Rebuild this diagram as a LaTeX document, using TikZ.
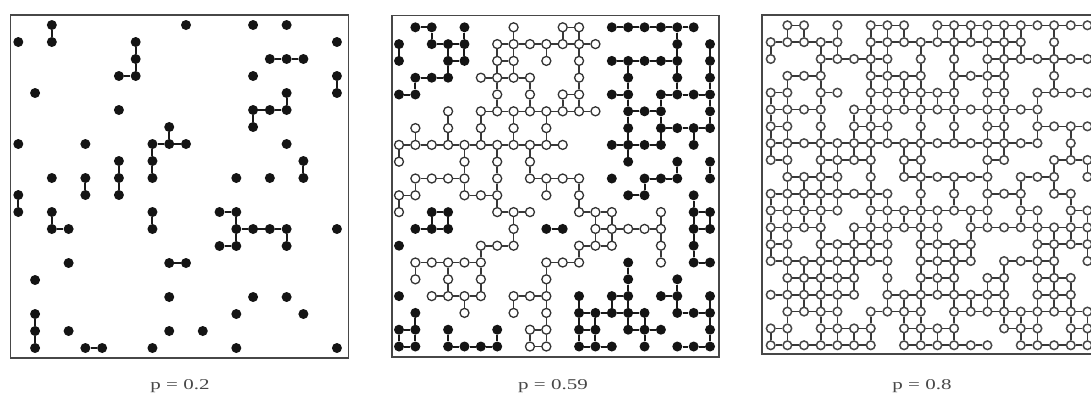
\documentclass[tikz,border=0pt]{standalone}
\usepackage{fontspec}
\setmainfont{Liberation Serif}
\newfontfamily\lblfont[FakeStretch=1.4]{Liberation Serif}
\newcount\gcol
\def\defrow#1#2#3{\global\gcol=0 \gdef\curP{#1}\gdef\curR{#2}\defrowi#3\relax}
\def\defrowi#1{\ifx#1\relax\else\expandafter\xdef\csname g\curP-\curR-\the\gcol\endcsname{#1}\global\advance\gcol by 1 \expandafter\defrowi\fi}
\def\site#1#2#3{\ifcsname g#1-#2-#3\endcsname\csname g#1-#2-#3\endcsname\else.\fi}
% panel A : p = 0.2
\defrow{A}{0}{..x.......x...x.x...}
\defrow{A}{1}{x.x....x...........x}
\defrow{A}{2}{.......x.......xxx..}
\defrow{A}{3}{......xx......x....x}
\defrow{A}{4}{.x..............x..x}
\defrow{A}{5}{......x.......xxx...}
\defrow{A}{6}{.........x....x.....}
\defrow{A}{7}{x...x...xxx.....x...}
\defrow{A}{8}{......x.x........x..}
\defrow{A}{9}{..x.x.x.x....x.x.x..}
\defrow{A}{10}{x...x.x.............}
\defrow{A}{11}{x.x.....x...xx......}
\defrow{A}{12}{..xx....x....xxxx..x}
\defrow{A}{13}{............xx..x...}
\defrow{A}{14}{...x.....xx.........}
\defrow{A}{15}{.x..................}
\defrow{A}{16}{.........x....x.x...}
\defrow{A}{17}{.x...........x...x..}
\defrow{A}{18}{.x.x.....x.x........}
\defrow{A}{19}{.x..xx..x....x.....x}
% panel B : p = 0.59
\defrow{B}{0}{.xx.x..o..oo.xxxxxx.}
\defrow{B}{1}{x.xxx.ooooooo....x.x}
\defrow{B}{2}{x..xx.oo.o.o.xxxxx.x}
\defrow{B}{3}{.xxx.oooo..o..x..x.x}
\defrow{B}{4}{xx....o.o.oo.xx.xxxx}
\defrow{B}{5}{...o.oooooooo.xxx..x}
\defrow{B}{6}{.o.o.o.o.o....x.xxxx}
\defrow{B}{7}{ooooooooooo..xxxx.x.}
\defrow{B}{8}{o...o.o.o.....x..x.x}
\defrow{B}{9}{.oooo.o.oooo.x.xxx.x}
\defrow{B}{10}{oo..ooo..o.o..xx..x.}
\defrow{B}{11}{o.xx..ooo..ooo..o.xx}
\defrow{B}{12}{.xxx...o.xx.ooooo.xx}
\defrow{B}{13}{x....ooo...ooo..o.x.}
\defrow{B}{14}{.ooooo...ooo..x.o.xx}
\defrow{B}{15}{.o.o.o...o....x..x..}
\defrow{B}{16}{x.oooo.ooo.x.xx.xx.x}
\defrow{B}{17}{.x..o..o.o.xxxxx.xxx}
\defrow{B}{18}{xx.x..x.oo.xx.xxx..x}
\defrow{B}{19}{xx.xxxx.oo.xxx.x.xxx}
% panel C : p = 0.8
\defrow{C}{0}{.oo.o.ooo.oooooooooo}
\defrow{C}{1}{ooooo.oooooooooo.o..}
\defrow{C}{2}{o..ooooo.o.o.ooooooo}
\defrow{C}{3}{.ooo..oooo.oooo..o..}
\defrow{C}{4}{oo.oo.oooooo.oo.oooo}
\defrow{C}{5}{oooo.oooooooooooo...}
\defrow{C}{6}{oo.o.ooo.o.o.oo.oooo}
\defrow{C}{7}{ooooooooooooooooo.o.}
\defrow{C}{8}{oo.oooo.oo...oo..ooo}
\defrow{C}{9}{.oooo.o.oooooo.ooo.o}
\defrow{C}{10}{oooooooo.o.o.ooo.oo.}
\defrow{C}{11}{ooooo.oooooooo.oo.oo}
\defrow{C}{12}{oooo.oooooo.oooooooo}
\defrow{C}{13}{oo.ooooo.oooo...oooo}
\defrow{C}{14}{oooooooo.oooo.oooo.o}
\defrow{C}{15}{.ooooo.o.ooo.oo.ooo.}
\defrow{C}{16}{oooooo.oooooooo.ooo.}
\defrow{C}{17}{.oooo.oooo.ooooooooo}
\defrow{C}{18}{oo.oooo.oooo..ooo.oo}
\defrow{C}{19}{ooooooo.oooooo.ooooo}
\tikzset{
  fsite/.style={circle, fill=black!92, draw=none, inner sep=0pt, minimum size=10pt},
  ositeA/.style={circle, draw=black!80, fill=white, line width=1.3pt, inner sep=0pt, minimum size=9pt},
  ositeB/.style={circle, draw=black!80, fill=white, line width=1.3pt, inner sep=0pt, minimum size=9pt},
  ositeC/.style={circle, draw=black!72, fill=white, line width=1.5pt, inner sep=0pt, minimum size=8.6pt},
  bondx/.style={line width=2pt, draw=black!90},
  bondo/.style={line width=1.6pt, draw=black!78},
  frame/.style={draw=black!72, line width=1.8pt},
  lbl/.style={font=\lblfont\fontsize{15}{17}\selectfont, text=black!72, inner sep=0pt, anchor=base}
}
\newcommand\placesites[5]{%
  \foreach \ri in {0,...,19}{%
    \foreach \ci in {0,...,19}{%
      \edef\curS{\site{#1}{\ri}{\ci}}%
      \if x\curS\node[fsite] (s#1r\ri c\ci) at ({#2+\ci*#3},{#4+\ri*#5}) {};\fi
      \if o\curS\node[osite#1] (s#1r\ri c\ci) at ({#2+\ci*#3},{#4+\ri*#5}) {};\fi
    }}}
\newcommand\placebonds[1]{%
  \foreach \ri in {0,...,19}{%
    \foreach \ci in {0,...,19}{%
      \pgfmathtruncatemacro\nxc{\ci+1}%
      \pgfmathtruncatemacro\nxr{\ri+1}%
      \edef\curS{\site{#1}{\ri}{\ci}}%
      \edef\rgtS{\site{#1}{\ri}{\nxc}}%
      \edef\botS{\site{#1}{\nxr}{\ci}}%
      \if .\curS\else
        \if .\rgtS\else
          \if x\curS\draw[bondx] (s#1r\ri c\ci) -- (s#1r\ri c\nxc);\else\draw[bondo] (s#1r\ri c\ci) -- (s#1r\ri c\nxc);\fi
        \fi
        \if .\botS\else
          \if x\curS\draw[bondx] (s#1r\ri c\ci) -- (s#1r\nxr c\ci);\else\draw[bondo] (s#1r\ri c\ci) -- (s#1r\nxr c\ci);\fi
        \fi
      \fi
    }}}
\begin{document}
\begin{tikzpicture}[x=1pt,y=-1pt]
\useasboundingbox (0,0) rectangle (1091,392);
\clip (0,0) rectangle (1091,392);
\fill[white] (0,0) rectangle (1091,392);
\draw[frame] (10.5,15) rectangle (348.5,358);
\draw[frame] (392,15.5) rectangle (719,357);
\draw[frame] (762,15) rectangle (1100,354);
\placesites{A}{18.3}{16.77}{25}{17}
\placesites{B}{399}{16.37}{27.3}{16.8}
\placesites{C}{770.7}{16.67}{25.3}{16.84}
\placebonds{A}
\placebonds{B}
\placebonds{C}
\node[lbl] (LA) at (180,389) {p = 0.2};
\node[lbl] (LB) at (553,389) {p = 0.59};
\node[lbl] (LC) at (922,389) {p = 0.8};
\end{tikzpicture}
\end{document}
